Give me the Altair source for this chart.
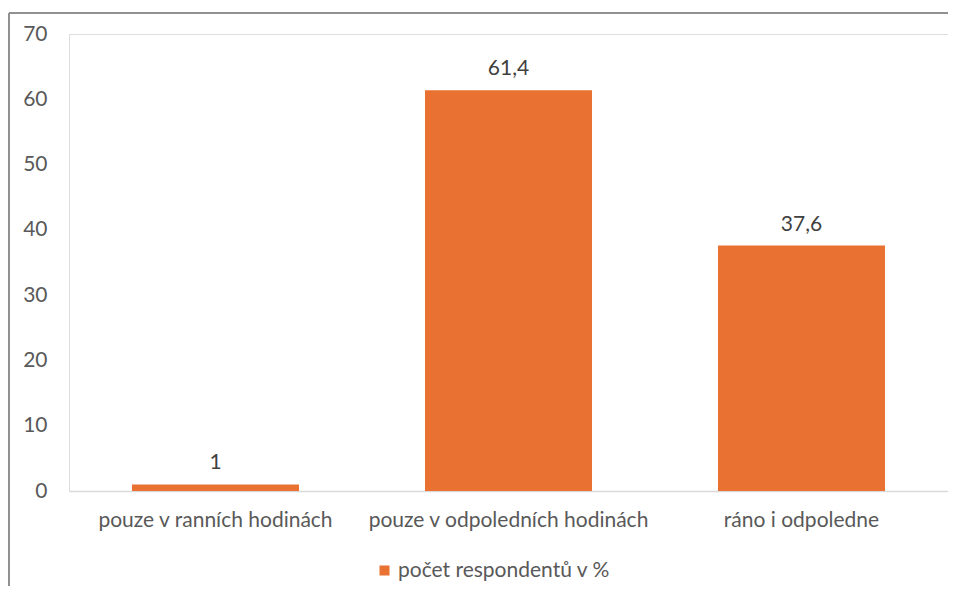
import altair as alt
import pandas as pd

kategorie = ["pouze v ranních hodinách", "pouze v odpoledních hodinách", "ráno i odpoledne"]
hodnoty = [1.0, 61.4, 37.6]
serie = "počet respondentů v %"
y_ticks = [0, 10, 20, 30, 40, 50, 60, 70]

df = pd.DataFrame({"kategorie": kategorie, "hodnota": hodnoty, "serie": [serie] * len(kategorie)})

FONT = "Lato"
FS = 21
ORANGE = "#E97132"

x_enc = alt.X("kategorie:N", sort=kategorie, title=None,
              scale=alt.Scale(paddingInner=0.43, paddingOuter=0.215),
              axis=alt.Axis(labelAngle=0, labelFontSize=FS, labelColor="#595959", labelFont=FONT,
                            labelPadding=18, labelLimit=0, ticks=False, domainColor="#d9d9d9", domainWidth=1.5))
y_enc = alt.Y("hodnota:Q", title=None,
              scale=alt.Scale(domain=[0, 70], nice=False),
              axis=alt.Axis(values=y_ticks, grid=False, domain=False, ticks=False,
                            labelFontSize=FS, labelColor="#595959", labelFont=FONT, labelPadding=22))

base = alt.Chart(df)

bars = base.mark_bar(color=ORANGE).encode(
    x=x_enc, y=y_enc,
    color=alt.Color("serie:N", scale=alt.Scale(range=[ORANGE]),
                    legend=alt.Legend(title=None, orient="none", legendX=305, legendY=526,
                                      symbolType="square", symbolSize=100, symbolStrokeWidth=0,
                                      labelFontSize=FS, labelColor="#595959", labelFont=FONT,
                                      labelOffset=3, labelLimit=0)),
)

labels = base.transform_calculate(
    popis="replace(toString(datum.hodnota), '.', ',')"
).mark_text(baseline="bottom", dy=-11, fontSize=FS, color="#404040", font=FONT).encode(
    x=alt.X("kategorie:N", sort=kategorie), y="hodnota:Q", text="popis:N")

frame_top = base.mark_rule(color="#8f8f8f", strokeWidth=1.5).encode(
    x=alt.value(-60), x2=alt.value(900), y=alt.value(-21))
frame_left = base.mark_rule(color="#8f8f8f", strokeWidth=1.5).encode(
    x=alt.value(-60), y=alt.value(-21), y2=alt.value(600))

chart = alt.layer(frame_top, frame_left, bars, labels).properties(
    width=879, height=457,
    autosize=alt.AutoSizeParams(type="none"),
    padding={"left": 61, "top": 26, "right": 0, "bottom": 95},
).configure_view(stroke=None).configure(background="white")

chart.save("out.html", embed_options={"renderer": "svg", "actions": False})
